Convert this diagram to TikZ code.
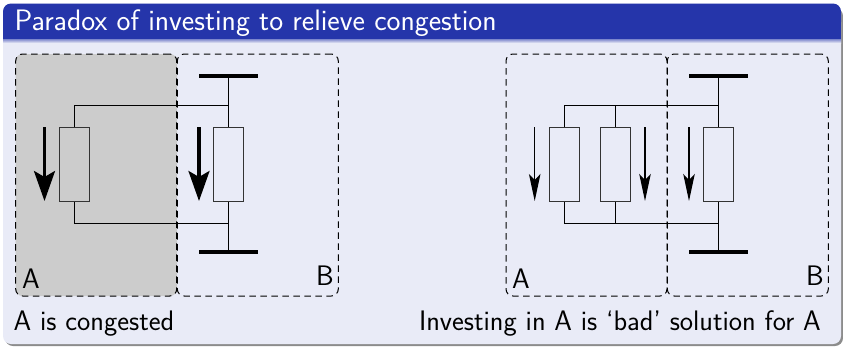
\documentclass[tikz,border=0pt]{standalone}
\usepackage{fontspec}
\usetikzlibrary{arrows.meta,calc}
\setsansfont{Latin Modern Sans}
\renewcommand{\familydefault}{\sfdefault}
\definecolor{barblue}{HTML}{2535AA}
\definecolor{panel}{HTML}{E9EBF7}
\definecolor{congest}{HTML}{CCCCCC}
\tikzset{
  zone/.style={draw=black,dash pattern=on 6.5pt off 4.5pt,line width=1pt,rounded corners=7pt,minimum width=161pt,minimum height=242pt,inner sep=0pt},
  imped/.style={draw=black!80,line width=1.3pt,minimum width=30pt,minimum height=74pt,inner sep=0pt},
  wire/.style={draw=black,line width=1.2pt},
  busbar/.style={fill=black,minimum width=59pt,minimum height=3.8pt,inner sep=0pt},
  bigflow/.style={line width=3.2pt,-{Stealth[length=30pt,width=21pt,inset=6pt]}},
  thinflow/.style={line width=1.2pt,-{Stealth[length=27pt,width=11.5pt,inset=6pt]}},
  lbl/.style={font=\fontsize{28.2}{28}\selectfont,text=black,inner sep=0pt}
}
\begin{document}
\begin{tikzpicture}[x=1pt,y=-1pt]
\useasboundingbox (0,0) rectangle (843,346);
% frame
\fill[black!45,rounded corners=8pt] (5,8) rectangle (843,346);
\fill[panel,rounded corners=8pt] (3,3.5) rectangle (841,344);
\fill[barblue,rounded corners=8pt] (3,3.5) rectangle (841,30);
\fill[barblue] (3,20) rectangle (841,39);
\shade[top color=barblue!60,bottom color=panel] (3,39) rectangle (841,43);
\node[lbl,text=white,anchor=base west,font=\fontsize{29.6}{30}\selectfont] (title) at (14.5,30) {Paradox of investing to relieve congestion};
% left
\fill[congest,rounded corners=7pt] (15.5,54) rectangle (177,296);
\node[zone] (zA) at (96.2,175) {};
\node[zone] (zB) at (257.8,175) {};
\node[busbar] (bt1) at (228.5,76) {};
\node[busbar] (bb1) at (228.5,252.3) {};
\node[imped] (r1) at (74.5,164.5) {};
\node[imped] (r2) at (228.5,164.5) {};
\coordinate (jt1) at (228.5,105.5);
\coordinate (jb1) at (228.5,223.5);
\draw[wire] (bt1) -- (r2);
\draw[wire] (r2) -- (bb1);
\draw[wire] (r1.north) |- (jt1);
\draw[wire] (r1.south) |- (jb1);
\coordinate (a1s) at (44.5,127);
\coordinate (a1e) at (44.5,201);
\coordinate (a2s) at (199,127);
\coordinate (a2e) at (199,201);
\draw[bigflow] (a1s) -- (a1e);
\draw[bigflow] (a2s) -- (a2e);
\node[lbl,anchor=base] (la1) at (31,288) {A};
\node[lbl,anchor=base] (lb1) at (325,285.5) {B};
\node[lbl,anchor=base west] (c1) at (13.5,330) {A is congested};
% right
\node[zone] (zC) at (586.5,175) {};
\node[zone] (zD) at (747.8,175) {};
\node[busbar] (bt2) at (718.5,76) {};
\node[busbar] (bb2) at (718.5,252.3) {};
\node[imped] (r3) at (564.5,164.5) {};
\node[imped] (r4) at (615.5,164.5) {};
\node[imped] (r5) at (718.5,164.5) {};
\coordinate (jt2) at (718.5,105.5);
\coordinate (jb2) at (718.5,223.5);
\draw[wire] (bt2) -- (r5);
\draw[wire] (r5) -- (bb2);
\draw[wire] (r3.north) |- (jt2);
\draw[wire] (r3.south) |- (jb2);
\draw[wire] (r4.north) -- (r4.north |- jt2);
\draw[wire] (r4.south) -- (r4.south |- jb2);
\coordinate (a3s) at (534.7,127);
\coordinate (a3e) at (534.7,201);
\coordinate (a4s) at (645,127);
\coordinate (a4e) at (645,201);
\coordinate (a5s) at (689,127);
\coordinate (a5e) at (689,201);
\draw[thinflow] (a3s) -- (a3e);
\draw[thinflow] (a4s) -- (a4e);
\draw[thinflow] (a5s) -- (a5e);
\node[lbl,anchor=base] (la2) at (521,288) {A};
\node[lbl,anchor=base] (lb2) at (815,285.5) {B};
\node[lbl,anchor=base east] (c2) at (821,330) {Investing in A is `bad' solution for A};
\end{tikzpicture}
\end{document}
